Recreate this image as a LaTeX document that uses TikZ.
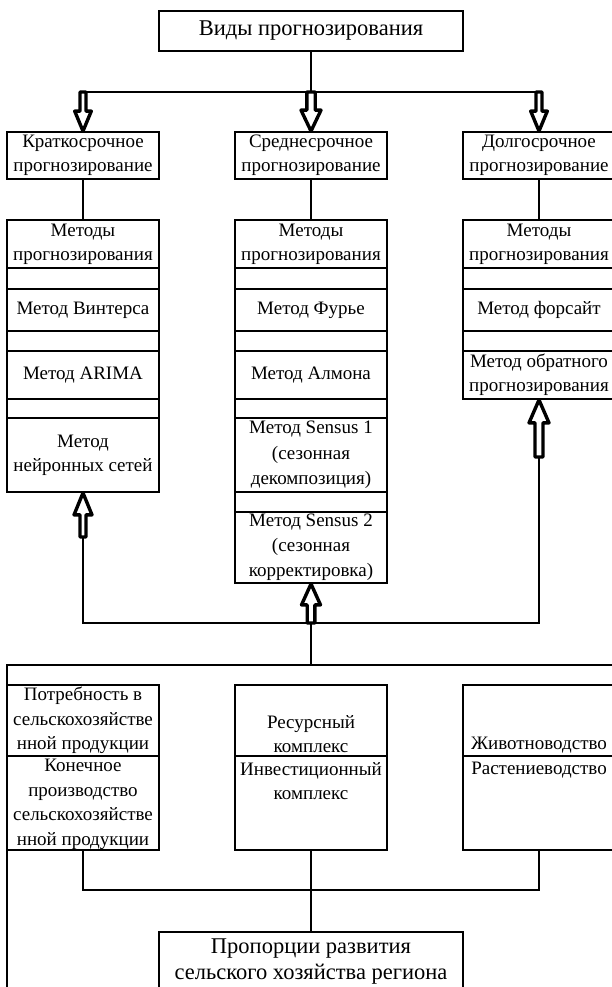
\documentclass[tikz,border=0pt]{standalone}
\usepackage{fontspec}
\setmainfont{Liberation Serif}
\usetikzlibrary{calc}
\tikzset{
  box/.style={draw, line width=1.8pt, minimum width=152pt, inner sep=0pt, align=center, font=\fontsize{19}{24}\selectfont},
  txt/.style={inner sep=0pt, align=center, font=\fontsize{19}{24.5}\selectfont},
  conn/.style={line width=1.8pt},
  blkarrow/.style={draw=black, fill=white, line width=3.4pt, line join=round},
}
% hollow block arrow: #1 start, #2 tip, #3 shaft half width, #4 head half width, #5 head length
\newcommand{\blk}[5]{%
  \draw[blkarrow] let \p1=(#1), \p2=(#2), \n1={sign(\y2-\y1)} in
    ({\x2-#3},\y1) -- ({\x2-#3},{\y2-\n1*#5}) -- ({\x2-#4},{\y2-\n1*#5}) -- (\x2,\y2)
    -- ({\x2+#4},{\y2-\n1*#5}) -- ({\x2+#3},{\y2-\n1*#5}) -- ({\x2+#3},\y1) -- cycle;}
\begin{document}
\begin{tikzpicture}[x=1pt,y=-1pt]
\useasboundingbox (0,0) rectangle (612,987);
\clip (0,0) rectangle (612,987);
\fill[white] (0,0) rectangle (612,987);

% top
\node[box, minimum width=304pt, minimum height=40pt, font=\fontsize{22.5}{26}\selectfont] (top) at (311,31) {Виды прогнозирования};

% level 2
\node[box, minimum height=47pt] (k1) at (83,155.5) {Краткосрочное\\прогнозирование};
\node[box, minimum height=47pt] (k2) at (311,155.5) {Среднесрочное\\прогнозирование};
\node[box, minimum height=47pt] (k3) at (539,155.5) {Долгосрочное\\прогнозирование};

% left stack
\node[box, minimum height=48pt] (L1) at (83,244) {Методы\\прогнозирования};
\node[box, minimum height=21pt] (L2) at (83,278.5) {};
\node[box, minimum height=42pt] (L3) at (83,310) {Метод Винтерса};
\node[box, minimum height=20pt] (L4) at (83,341) {};
\node[box, minimum height=48pt] (L5) at (83,375) {Метод ARIMA};
\node[box, minimum height=19pt] (L6) at (83,408.5) {};
\node[box, minimum height=74pt] (L7) at (83,455) {Метод\\нейронных сетей};

% middle stack
\node[box, minimum height=48pt] (M1) at (311,244) {Методы\\прогнозирования};
\node[box, minimum height=21pt] (M2) at (311,278.5) {};
\node[box, minimum height=42pt] (M3) at (311,310) {Метод Фурье};
\node[box, minimum height=20pt] (M4) at (311,341) {};
\node[box, minimum height=48pt] (M5) at (311,375) {Метод Алмона};
\node[box, minimum height=19pt] (M6) at (311,408.5) {};
\node[box, minimum height=74pt, font=\fontsize{19}{25.5}\selectfont] (M7) at (311,455) {Метод Sensus 1\\(сезонная\\декомпозиция)};
\node[box, minimum height=20pt] (M8) at (311,502) {};
\node[box, minimum height=71pt, font=\fontsize{19}{25}\selectfont] (M9) at (311,547.5) {Метод Sensus 2\\(сезонная\\корректировка)};

% right stack
\node[box, minimum height=48pt] (R1) at (539,244) {Методы\\прогнозирования};
\node[box, minimum height=21pt] (R2) at (539,278.5) {};
\node[box, minimum height=42pt] (R3) at (539,310) {Метод форсайт};
\node[box, minimum height=20pt] (R4) at (539,341) {};
\node[box, minimum height=48pt] (R5) at (539,375) {Метод обратного\\прогнозирования};

% bottom row boxes
\node[box, minimum height=71pt] (B1u) at (83,720.5) {};
\node[box, minimum height=94pt] (B1l) at (83,803) {};
\node[box, minimum height=71pt] (B2u) at (311,720.5) {};
\node[box, minimum height=94pt] (B2l) at (311,803) {};
\node[box, minimum height=71pt] (B3u) at (539,720.5) {};
\node[box, minimum height=94pt] (B3l) at (539,803) {};
\node[txt, anchor=south] (t1u) at ([yshift=3pt]B1u.south) {Потребность в\\сельскохозяйстве\\нной продукции};
\node[txt, anchor=north] (t1l) at ([yshift=-4pt]B1l.north) {Конечное\\производство\\сельскохозяйстве\\нной продукции};
\node[txt, anchor=south] (t2u) at ([yshift=4pt]B2u.south) {Ресурсный\\комплекс};
\node[txt, anchor=north] (t2l) at ([yshift=-7pt]B2l.north) {Инвестиционный\\комплекс};
\node[txt, anchor=south] (t3u) at ([yshift=4pt]B3u.south) {Животноводство};
\node[txt, anchor=north] (t3l) at ([yshift=-7pt]B3l.north) {Растениеводство};

% final box
\node[box, minimum width=304pt, minimum height=88pt] (fin) at (311,976) {};
\node[txt, font=\fontsize{22.5}{26}\selectfont] (tfin) at (311,962) {Пропорции развития\\сельского хозяйства региона};

% top connectors
\coordinate (j1) at (311,92);
\draw[conn] (top.south) -- (j1);
\draw[conn] (k1 |- j1) -- (k3 |- j1);
\draw[conn] (k1.south) -- (L1.north);
\draw[conn] (k2.south) -- (M1.north);
\draw[conn] (k3.south) -- (R1.north);
\blk{k1 |- j1}{k1.north}{3pt}{8.3pt}{20pt}
\blk{j1}{k2.north}{4.2pt}{10pt}{21pt}
\blk{k3 |- j1}{k3.north}{3pt}{8.3pt}{20pt}

% middle bus
\coordinate (j2) at (311,623);
\coordinate (aL) at (83,537);
\coordinate (aR) at (539,457);
\coordinate (j3) at (311,665);
\draw[conn] (aL) -- (aL |- j2) -- (aR |- j2) -- (aR);
\draw[conn] (j2) -- (j3);
\blk{aL}{L7.south}{3pt}{9pt}{22pt}
\blk{j2}{M9.south}{3.8pt}{9.5pt}{21pt}
\blk{aR}{R5.south}{4pt}{10pt}{23pt}

% lower bus and left line
\coordinate (bl) at (7,665);
\coordinate (br) at (614,665);
\coordinate (blb) at (7,992);
\draw[conn] (br) -- (bl) -- (blb);

% bottom connectors
\coordinate (j4) at (311,890);
\draw[conn] (B1l.south) -- (B1l.south |- j4) -- (B3l.south |- j4) -- (B3l.south);
\draw[conn] (B2l.south) -- (fin.north);
\end{tikzpicture}
\end{document}
